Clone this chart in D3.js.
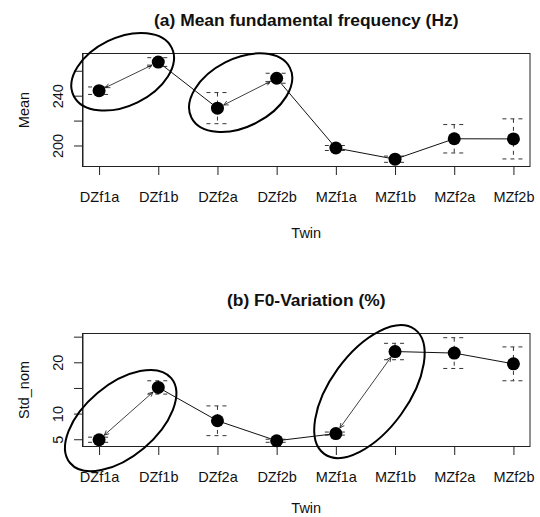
<!DOCTYPE html>
<html>
<head>
<meta charset="utf-8">
<script src="https://cdn.jsdelivr.net/npm/d3@7"></script>
<style>
  body { margin: 0; background: #fff; }
  svg { display: block; font-family: "Liberation Sans", Arial, sans-serif; }
</style>
</head>
<body>
<div id="chart"></div>
<script>
// twins on the x axis
const twins = ["DZf1a", "DZf1b", "DZf2a", "DZf2b", "MZf1a", "MZf1b", "MZf2a", "MZf2b"];

// (a) mean F0 in Hz, with half-width of the error bars
const meanF0 = [244, 267, 230, 254, 198, 189, 205.4, 205.3];
const meanF0Err = [3, 3.5, 12.5, 4, 2, 2.5, 11.4, 16.1];
const meanTicks = [200, 220, 240, 260];
const meanLabels = ["200", "", "240", ""];

// (b) F0 variation (%), with half-width of the error bars
const stdNom = [4.9, 15.1, 8.6, 4.7, 6.1, 22.1, 21.8, 19.7];
const stdNomErr = [0.5, 1.3, 2.9, 0.3, 0.3, 1.6, 3.0, 3.3];
const stdTicks = [5, 10, 15, 20, 25];
const stdLabels = ["5", "10", "", "20", ""];

// twin pairs that get circled (indices into twins)
const meanPairs = [[0, 1], [2, 3]];
const stdPairs = [[0, 1], [4, 5]];

const W = 540, H = 517;
const plotLeft = 82.5, plotRight = 530, plotH = 113;
const font = 14.5;

const panels = [
    {
        title: "(a) Mean fundamental frequency (Hz)", ylab: "Mean",
        values: meanF0, errs: meanF0Err, ticks: meanTicks, labels: meanLabels,
        pairs: meanPairs, top: 53.5,
        rings: [
            { dx: -6, dy: -4.6, rx: 54.6, ry: 34, angle: -26 },
            { dx: -6.4, dy: -0.5, rx: 55.2, ry: 34, angle: -27 }
        ]
    },
    {
        title: "(b) F0-Variation (%)", ylab: "Std_nom",
        values: stdNom, errs: stdNomErr, ticks: stdTicks, labels: stdLabels,
        pairs: stdPairs, top: 333.5,
        rings: [
            { dx: -8, dy: 7, rx: 66, ry: 36, angle: -40 },
            { dx: 4, dy: -1, rx: 77, ry: 39, angle: -54 }
        ]
    }
];

const svg = d3.select("#chart").append("svg")
    .attr("width", W)
    .attr("height", H);

svg.append("rect").attr("width", W).attr("height", H).attr("fill", "#fff");

const x = d3.scalePoint()
    .domain(twins)
    .range([plotLeft, plotRight])
    .padding(0.28);

panels.forEach(drawPanel);

function drawPanel(p) {
    const bottom = p.top + plotH;
    // R style y range: data extent incl. error bars, plus 4% each side
    const lo = d3.min(p.values, (v, i) => v - p.errs[i]);
    const hi = d3.max(p.values, (v, i) => v + p.errs[i]);
    const pad = (hi - lo) * 0.04;
    const y = d3.scaleLinear()
        .domain([lo - pad, hi + pad])
        .range([bottom, p.top]);

    const g = svg.append("g");

    // box
    g.append("rect")
        .attr("x", plotLeft)
        .attr("y", p.top)
        .attr("width", plotRight - plotLeft)
        .attr("height", plotH)
        .attr("fill", "none")
        .attr("stroke", "#222");

    // x axis
    const xAxis = g.append("g")
        .attr("transform", `translate(0,${bottom})`)
        .call(d3.axisBottom(x).tickSize(8.5).tickSizeOuter(0));
    xAxis.select(".domain").attr("d", `M${x(twins[0])},0H${x(twins[twins.length - 1])}`).attr("stroke", "#222");
    xAxis.selectAll(".tick line").attr("stroke", "#222");
    xAxis.selectAll("text")
        .attr("y", 35.6)
        .attr("dy", 0)
        .attr("fill", "#111")
        .style("font-size", font + "px");

    // y axis
    const yAxis = g.append("g")
        .attr("transform", `translate(${plotLeft},0)`)
        .call(d3.axisLeft(y)
            .tickValues(p.ticks)
            .tickFormat((d, i) => p.labels[i])
            .tickSize(8.5)
            .tickSizeOuter(0));
    yAxis.select(".domain").attr("stroke", "#222");
    yAxis.selectAll(".tick line").attr("stroke", "#222");
    yAxis.selectAll("text")
        .attr("x", 0)
        .attr("dy", 0)
        .attr("transform", "translate(-19.2,0) rotate(-90)")
        .attr("text-anchor", "middle")
        .attr("fill", "#111")
        .style("font-size", font + "px");

    // titles
    g.append("text")
        .attr("x", (plotLeft + plotRight) / 2)
        .attr("y", p.top - 28)
        .attr("text-anchor", "middle")
        .attr("font-weight", "bold")
        .attr("font-size", "17.4px")
        .attr("fill", "#111")
        .text(p.title);

    // lower panel's "Twin" would fall off the page, keep it just inside
    g.append("text")
        .attr("x", (plotLeft + plotRight) / 2)
        .attr("y", Math.min(bottom + 71.6, H - 4))
        .attr("text-anchor", "middle")
        .attr("font-size", font + "px")
        .attr("fill", "#111")
        .text("Twin");

    g.append("text")
        .attr("transform", `translate(28.5,${(p.top + bottom) / 2}) rotate(-90)`)
        .attr("text-anchor", "middle")
        .attr("font-size", font + "px")
        .attr("fill", "#111")
        .text(p.ylab);

    // error bars (dashed, R lty 2)
    const eb = g.append("g")
        .attr("stroke", "#333")
        .attr("stroke-dasharray", "4,4")
        .attr("fill", "none");
    p.values.forEach((v, i) => {
        const cx = x(twins[i]);
        const y1 = y(v + p.errs[i]), y2 = y(v - p.errs[i]);
        eb.append("line").attr("x1", cx).attr("x2", cx).attr("y1", y1).attr("y2", y2);
        eb.append("line").attr("x1", cx - 11).attr("x2", cx + 11).attr("y1", y1).attr("y2", y1);
        eb.append("line").attr("x1", cx - 11).attr("x2", cx + 11).attr("y1", y2).attr("y2", y2);
    });

    // connecting lines; circled pairs get a thin double arrow instead
    const isPair = i => p.pairs.some(pr => pr[0] === i && pr[1] === i + 1);
    const line = d3.line().x(d => d[0]).y(d => d[1]);
    for (let i = 0; i < p.values.length - 1; i++) {
        const a = [x(twins[i]), y(p.values[i])];
        const b = [x(twins[i + 1]), y(p.values[i + 1])];
        if (!isPair(i)) {
            g.append("path")
                .attr("d", line([a, b]))
                .attr("stroke", "#111")
                .attr("stroke-width", 1)
                .attr("fill", "none");
        } else {
            drawArrow(g, a, b);
        }
    }

    // points
    g.selectAll("circle.pt")
        .data(p.values)
        .enter()
        .append("circle")
        .attr("class", "pt")
        .attr("cx", (d, i) => x(twins[i]))
        .attr("cy", d => y(d))
        .attr("r", 6.5)
        .attr("fill", "#000");

    // ellipses round the pairs
    p.pairs.forEach((pr, k) => {
        const r = p.rings[k];
        const mx = (x(twins[pr[0]]) + x(twins[pr[1]])) / 2 + r.dx;
        const my = (y(p.values[pr[0]]) + y(p.values[pr[1]])) / 2 + r.dy;
        g.append("ellipse")
            .attr("transform", `translate(${mx},${my}) rotate(${r.angle})`)
            .attr("rx", r.rx)
            .attr("ry", r.ry)
            .attr("fill", "none")
            .attr("stroke", "#000")
            .attr("stroke-width", 2);
    });
}

function drawArrow(g, a, b) {
    const dx = b[0] - a[0], dy = b[1] - a[1];
    const len = Math.hypot(dx, dy);
    const ux = dx / len, uy = dy / len;
    const s = [a[0] + ux * 7, a[1] + uy * 7];
    const e = [b[0] - ux * 7, b[1] - uy * 7];
    const head = (pt, dir) => {
        const ang = Math.atan2(dir[1], dir[0]);
        const l = 5, w = Math.PI / 7;
        return `M${pt[0] - l * Math.cos(ang - w)},${pt[1] - l * Math.sin(ang - w)}L${pt[0]},${pt[1]}L${pt[0] - l * Math.cos(ang + w)},${pt[1] - l * Math.sin(ang + w)}`;
    };
    g.append("path")
        .attr("d", `M${s[0]},${s[1]}L${e[0]},${e[1]}` + head(e, [ux, uy]) + head(s, [-ux, -uy]))
        .attr("stroke", "#111")
        .attr("stroke-width", 0.8)
        .attr("fill", "none");
}
</script>
</body>
</html>
